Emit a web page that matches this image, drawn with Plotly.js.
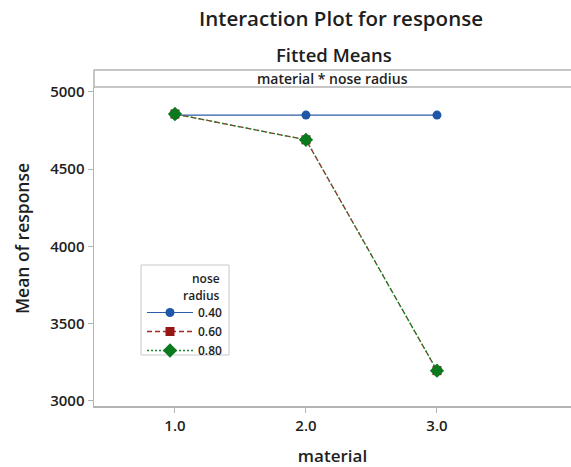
<!DOCTYPE html>
<html>
<head>
<meta charset="utf-8">
<script src="https://cdn.plot.ly/plotly-3.0.1.min.js"></script>
<style>
  html, body { margin: 0; padding: 0; background: #fff; }
  #chart { width: 571px; height: 467px; }
</style>
</head>
<body>
<div id="chart"></div>
<script>
// Fitted means of response by material, one line per nose radius level
const material = [1, 2, 3];
const materialLabels = ['1.0', '2.0', '3.0'];
const radiusLevels = ['0.40', '0.60', '0.80'];
const meansR040 = [4850, 4850, 4850];
const meansR060 = [4857, 4690, 3195];
const meansR080 = [4857, 4690, 3195];
const yTicks = [3000, 3500, 4000, 4500, 5000];

const FONT = '"Open Sans", "Noto Sans", sans-serif';
const GREY = '#b4b4b4';
const INK = '#1e1e1e';

// plot area in pixels: x 94..571, y 87..406
const px = v => (v - 94) / 477;
const py = v => (406 - v) / 319;

const traces = [
  {
    x: material, y: meansR040, name: radiusLevels[0], type: 'scatter', mode: 'lines+markers',
    line: { color: '#2b5ca6', width: 1.2, dash: 'solid' },
    marker: { symbol: 'circle', size: 9, color: '#1f57a8' }
  },
  {
    x: material, y: meansR060, name: radiusLevels[1], type: 'scatter', mode: 'lines+markers',
    line: { color: '#a52828', width: 1.3, dash: '5px,3px' },
    marker: { symbol: 'square', size: 9, color: '#961515' }
  },
  {
    x: material, y: meansR080, name: radiusLevels[2], type: 'scatter', mode: 'lines+markers',
    line: { color: '#178a2c', width: 1.3, dash: '2px,2px' },
    marker: { symbol: 'diamond', size: 11, color: '#0a7a1f' }
  }
];

const layout = {
  width: 571, height: 467,
  margin: { l: 94, r: 0, t: 87, b: 61 },
  paper_bgcolor: '#ffffff', plot_bgcolor: '#ffffff',
  font: { family: FONT, color: INK, size: 14 },
  showlegend: true,
  title: {
    text: 'Interaction Plot for response',
    font: { family: FONT, size: 20.5, weight: 600, color: INK },
    xref: 'paper', x: px(341), xanchor: 'center',
    yref: 'container', y: 1 - 19 / 467, yanchor: 'middle'
  },
  xaxis: {
    range: [0.382, 4.023],
    tickvals: material, ticktext: materialLabels,
    showgrid: false, zeroline: false,
    showline: true, linecolor: GREY, linewidth: 1.5,
    ticks: 'outside', ticklen: 5, tickcolor: GREY, tickwidth: 1,
    tickfont: { family: FONT, size: 15, weight: 600, color: INK },
    title: { text: 'material', font: { family: FONT, size: 17, weight: 600, color: INK }, standoff: 16 }
  },
  yaxis: {
    range: [2966, 5032],
    tickvals: yTicks,
    showgrid: false, zeroline: false,
    showline: true, linecolor: GREY, linewidth: 1.5,
    ticks: 'outside', ticklen: 5, tickcolor: GREY, tickwidth: 1,
    tickfont: { family: FONT, size: 15, weight: 600, color: INK }
  },
  legend: {
    x: px(142), xanchor: 'left', y: py(298), yanchor: 'top',
    bgcolor: 'rgba(0,0,0,0)', borderwidth: 0,
    font: { family: FONT, size: 12, weight: 600, color: INK },
    itemwidth: 46,
    title: { text: '' }
  },
  shapes: [
    // panel header strip
    { type: 'rect', xref: 'paper', yref: 'paper', x0: 0, x1: 1.01, y0: 1, y1: 1 + 17 / 319,
      line: { color: GREY, width: 1.5 }, fillcolor: '#ffffff', layer: 'above' },
    // legend frame
    { type: 'rect', xref: 'paper', yref: 'paper', x0: px(141), x1: px(229), y0: py(355), y1: py(265),
      line: { color: '#c8c8c8', width: 1 }, fillcolor: 'rgba(0,0,0,0)' }
  ],
  annotations: [
    { text: 'Fitted Means', xref: 'paper', x: px(334), yref: 'paper', y: py(54),
      xanchor: 'center', yanchor: 'middle', showarrow: false,
      font: { family: FONT, size: 18.5, weight: 600, color: INK } },
    { text: 'material * nose radius', xref: 'paper', x: px(332), yref: 'paper', y: py(78.5),
      xanchor: 'center', yanchor: 'middle', showarrow: false,
      font: { family: FONT, size: 14, weight: 600, color: INK } },
    { text: 'Mean of response', xref: 'paper', x: px(22), yref: 'paper', y: py(239),
      xanchor: 'center', yanchor: 'middle', textangle: -90, showarrow: false,
      font: { family: FONT, size: 17.5, weight: 600, color: INK } },
    { text: 'nose', xref: 'paper', x: px(222), yref: 'paper', y: py(278),
      xanchor: 'right', yanchor: 'middle', showarrow: false,
      font: { family: FONT, size: 12, weight: 600, color: INK } },
    { text: 'radius', xref: 'paper', x: px(222), yref: 'paper', y: py(295),
      xanchor: 'right', yanchor: 'middle', showarrow: false,
      font: { family: FONT, size: 12, weight: 600, color: INK } }
  ]
};

Plotly.newPlot('chart', traces, layout, { displayModeBar: false, staticPlot: true });
</script>
</body>
</html>
